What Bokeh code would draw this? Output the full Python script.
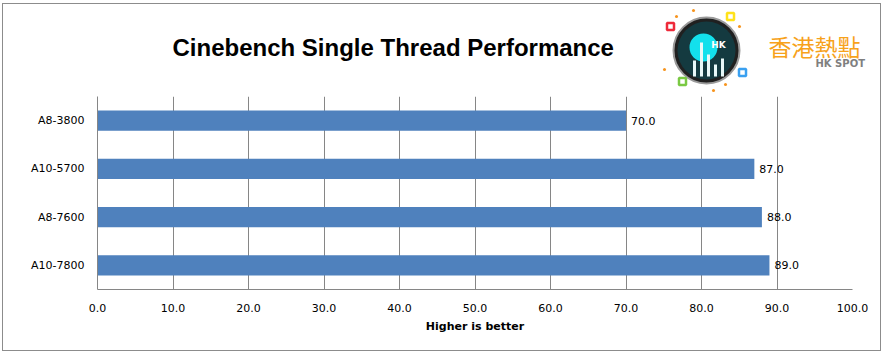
from bokeh.plotting import figure
from bokeh.layouts import column
from bokeh.models import Range1d, FactorRange, ColumnDataSource, NumeralTickFormatter, FixedTicker, LabelSet
from bokeh.core.properties import value
from bokeh.embed import file_html
from bokeh.resources import INLINE

categories = ["A8-3800", "A10-5700", "A8-7600", "A10-7800"]
scores = [70.0, 87.0, 88.0, 89.0]
x_ticks = [0, 10, 20, 30, 40, 50, 60, 70, 80, 90, 100]
title_text = "Cinebench Single Thread Performance"
x_label = "Higher is better"

W = 877
HEAD_H = 92
OX, OY = 3, 4  # page position of the header's top-left corner

# ---------- header (title + logo), data coords = page pixels ----------
h = figure(width=W, height=HEAD_H, output_backend="svg", toolbar_location=None,
           x_range=Range1d(OX, OX + W), y_range=Range1d(OY + HEAD_H, OY),
           min_border_left=0, min_border_right=0, min_border_top=0, min_border_bottom=0)
h.axis.visible = False
h.grid.visible = False
h.outline_line_color = None
h.border_fill_color = "white"
h.background_fill_color = "white"

h.text(x=[172], y=[47], text=[title_text], text_align="left", text_baseline="middle",
       text_font=value("Liberation Sans"), text_font_style="bold", text_font_size="24px", text_color="#000000")

# logo approximation
h.circle(x=[706], y=[50], radius=33, fill_color="#202020", line_color="#9a9a9a", line_width=2)
h.circle(x=[706], y=[50], radius=29, fill_color="#143a40", line_color=None)
h.circle(x=[703], y=[47], radius=14, fill_color="#13e0ec", line_color=None)
h.vbar(x=[694, 701, 708, 715, 722], bottom=[76, 76, 76, 76, 76], top=[60, 42, 54, 64, 58], width=3,
       fill_color="#e8f8f8", line_color=None)
h.text(x=[718], y=[44], text=["HK"], text_align="center", text_baseline="middle",
       text_font=value("DejaVu Sans"), text_font_style="bold", text_font_size="9px", text_color="#ffffff")
h.scatter(x=[670, 730, 742, 682], y=[26, 16, 72, 81], marker="square", size=7,
          fill_color="white", line_color=["#ee2a3a", "#ffe21a", "#3aa0f0", "#7ac943"], line_width=2.5)
h.scatter(x=[693, 676, 739, 725, 713, 664], y=[10, 16, 26, 84, 90, 69], marker="circle", size=3,
          fill_color="#f7941d", line_color=None)
h.text(x=[768], y=[45], text=["香港熱點"], text_align="left", text_baseline="middle",
       text_font=value("Noto Sans CJK TC"), text_font_size="23px", text_color="#F7A21B")
h.text(x=[815], y=[63], text=["HK SPOT"], text_align="left", text_baseline="middle",
       text_font=value("DejaVu Sans"), text_font_style="bold", text_font_size="10px", text_color="#7f7f7f")

# ---------- chart ----------
src = ColumnDataSource(dict(cat=categories, val=scores, lab=["%.1f" % v for v in scores]))

p = figure(width=W, height=254, output_backend="svg", toolbar_location=None,
           x_range=Range1d(0, 100), y_range=FactorRange(*reversed(categories)),
           min_border_left=94, min_border_right=28, min_border_top=0, min_border_bottom=61)
p.outline_line_color = None
p.background_fill_color = "white"
p.border_fill_color = "white"

p.hbar(y="cat", right="val", left=0, height=0.42, source=src, fill_color="#4F81BD", line_color=None)
p.add_layout(LabelSet(x="val", y="cat", text="lab", source=src, x_offset=5, text_baseline="middle",
                      text_font=value("DejaVu Sans"), text_font_size="11px", text_color="#000000"))

p.xaxis.ticker = FixedTicker(ticks=x_ticks)
p.xaxis.formatter = NumeralTickFormatter(format="0.0")
p.xaxis.axis_label = x_label
p.xaxis.axis_label_text_font = "DejaVu Sans"
p.xaxis.axis_label_text_font_style = "bold"
p.xaxis.axis_label_text_font_size = "11px"
p.xaxis.axis_label_text_color = "#000000"
p.xaxis.axis_label_standoff = 5
p.xaxis.major_label_text_font = "DejaVu Sans"
p.xaxis.major_label_text_font_size = "11px"
p.xaxis.major_label_text_color = "#000000"
p.xaxis.major_label_standoff = 8
p.xaxis.major_tick_line_color = None
p.xaxis.minor_tick_line_color = None
p.xaxis.axis_line_color = "#868686"

p.yaxis.major_label_text_font = "DejaVu Sans"
p.yaxis.major_label_text_font_size = "11px"
p.yaxis.major_label_text_color = "#000000"
p.yaxis.major_label_standoff = 7
p.yaxis.major_tick_line_color = None
p.yaxis.axis_line_color = "#868686"

p.xgrid.grid_line_color = "#868686"
p.ygrid.grid_line_color = None

layout = column(column(h), p, spacing=0)
layout.styles = {"border": "1px solid #8c8c8c", "margin": "3px 0 0 2px", "background-color": "white"}

open("out.html", "w").write(file_html(layout, INLINE))
